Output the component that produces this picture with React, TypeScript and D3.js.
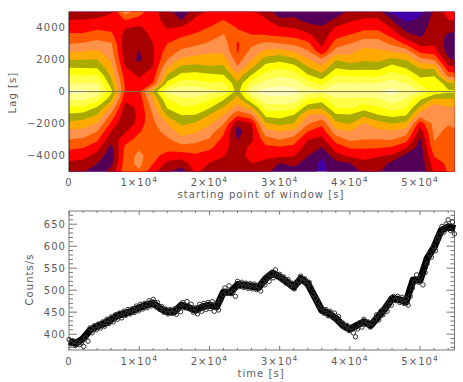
import React, { useRef, useEffect } from 'react';
import * as d3 from 'd3';

const width = 463;
const height = 382;
const plotLeft = 69;
const plotRight = 454.5;
const topPlot = { top: 11.7, bottom: 171.5 };
const lowerPlot = { top: 211, bottom: 350 };

const timeMax = 54900;
const timeTicks = [0, 10000, 20000, 30000, 40000, 50000];
const lagTicks = [-4000, -2000, 0, 2000, 4000];
const countTicks = [400, 450, 500, 550, 600, 650];

// lag rows of the grid, top to bottom
const lagRows = [5000, 4500, 4000, 3500, 3000, 2500, 2000, 1500, 1000, 500, 0, -500, -1000, -1500, -2000, -2500, -3000, -3500, -4000, -4500, -5000];
const colStep = 2000;

// one list per starting time (0, 2000, 4000, ...): colour band read at each lag row
const bandColumns = [
  [2.4, 3.0, 3.6, 4.2, 5.0, 6.0, 7.0, 8.0, 9.1, 10.05, 11.3, 10.05, 8.85, 7.7, 6.7, 5.7, 5.0, 4.2, 3.5, 2.8, 2.2],
  [2.5, 3.0, 3.6, 4.2, 5.1, 6.0, 7.0, 7.95, 9.0, 10.0, 11.3, 10.1, 8.85, 7.5, 6.55, 5.65, 4.85, 4.05, 3.35, 2.65, 2.1],
  [2.5, 3.1, 3.8, 4.55, 5.4, 6.2, 7.05, 7.9, 9.1, 10.05, 10.8, 9.4, 7.9, 6.9, 5.95, 5.0, 4.2, 3.4, 2.65, 2.0, 1.4],
  [2.9, 3.3, 3.7, 4.3, 5.1, 5.45, 5.85, 6.3, 6.8, 7.5, 8.3, 7.3, 5.85, 4.7, 3.8, 3.0, 2.3, 1.7, 1.3, 1.7, 2.4],
  [5.5, 4.05, 3.05, 2.6, 2.4, 2.4, 2.6, 3.05, 3.5, 3.85, 3.9, 3.2, 2.6, 2.3, 2.1, 2.9, 3.6, 4.2, 4.4, 4.5, 4.6],
  [4.5, 3.6, 2.85, 2.5, 2.2, 1.95, 1.8, 2.45, 2.9, 3.4, 3.7, 3.4, 3.2, 3.2, 3.5, 3.9, 4.35, 4.85, 5.3, 5.3, 4.9],
  [3.3, 3.4, 3.4, 3.2, 3.0, 2.9, 2.9, 3.05, 3.5, 4.1, 7.3, 6.05, 5.5, 5.05, 4.8, 4.6, 4.4, 4.3, 4.3, 4.0, 3.3],
  [2.4, 2.6, 2.95, 3.5, 4.0, 4.5, 5.0, 6.1, 7.1, 8.4, 10.3, 8.9, 8.1, 7.1, 6.0, 5.4, 4.8, 4.35, 3.65, 2.7, 2.2],
  [1.3, 1.95, 3.1, 3.9, 4.55, 5.2, 6.2, 7.3, 8.35, 9.55, 10.9, 9.6, 8.9, 7.95, 7.2, 6.45, 5.65, 4.6, 3.5, 2.45, 1.4],
  [2.6, 3.2, 3.65, 4.15, 4.8, 5.6, 6.45, 7.4, 8.45, 9.5, 10.85, 9.65, 8.75, 7.9, 6.85, 6.15, 5.35, 4.55, 3.85, 3.5, 3.2],
  [3.1, 3.55, 4.05, 4.6, 5.15, 5.85, 6.5, 7.15, 8.25, 9.05, 10.4, 9.05, 8.1, 6.9, 6.15, 5.5, 4.9, 4.2, 3.55, 2.95, 2.5],
  [3.5, 4.0, 4.55, 5.1, 5.5, 5.85, 6.5, 7.25, 8.1, 9.3, 10.0, 8.05, 6.9, 5.95, 5.1, 4.2, 3.7, 3.4, 3.05, 2.7, 2.4],
  [3.2, 3.6, 3.95, 4.2, 3.9, 3.9, 4.5, 5.15, 6.35, 7.2, 7.5, 6.5, 5.6, 4.1, 2.1, 1.6, 1.95, 2.3, 2.5, 2.6, 2.7],
  [3.2, 3.5, 3.7, 4.05, 4.75, 5.4, 6.0, 6.9, 8.1, 9.55, 10.85, 8.9, 6.7, 4.8, 3.0, 2.7, 2.8, 3.3, 3.4, 3.0, 2.6],
  [2.5, 3.1, 3.55, 4.05, 5.25, 6.25, 7.45, 8.5, 9.5, 10.4, 11.4, 10.55, 9.5, 8.2, 6.85, 5.6, 4.55, 3.75, 3.25, 2.7, 2.3],
  [1.4, 2.15, 3.1, 3.9, 5.05, 6.5, 7.7, 8.9, 9.9, 10.75, 11.5, 10.65, 9.5, 8.4, 7.3, 6.0, 5.05, 3.9, 3.25, 1.95, 1.4],
  [1.5, 2.25, 2.95, 3.75, 4.8, 6.0, 7.25, 8.5, 9.6, 10.65, 11.4, 10.55, 9.35, 7.9, 6.95, 5.75, 4.55, 3.7, 3.1, 2.3, 1.5],
  [1.2, 1.65, 2.45, 3.3, 4.25, 5.2, 6.15, 7.15, 8.15, 9.6, 10.6, 8.9, 7.4, 5.9, 5.15, 4.0, 3.05, 2.55, 2.05, 1.5, 1.2],
  [1.1, 1.6, 2.1, 2.45, 2.75, 3.3, 5.2, 6.3, 7.35, 8.75, 10.2, 8.45, 7.1, 5.65, 4.25, 3.45, 2.7, 1.95, 1.1, 0.8, 0.9],
  [1.4, 2.15, 3.1, 3.7, 4.45, 5.5, 6.95, 7.9, 9.1, 10.05, 10.85, 9.75, 9.05, 7.7, 6.7, 5.6, 4.4, 3.5, 2.65, 1.6, 1.2],
  [2.3, 2.85, 3.45, 4.1, 5.0, 5.7, 6.55, 7.65, 8.85, 10.05, 10.85, 9.8, 9.15, 7.8, 7.1, 6.0, 5.2, 4.1, 3.25, 1.95, 1.4],
  [2.5, 3.1, 3.7, 4.6, 5.65, 6.35, 6.85, 7.7, 8.85, 10.05, 10.85, 9.65, 8.45, 7.15, 5.95, 5.5, 5.0, 4.1, 3.4, 2.7, 2.2],
  [2.5, 3.1, 3.7, 4.6, 5.55, 6.2, 6.75, 7.65, 8.85, 10.1, 11.0, 9.75, 8.85, 7.9, 6.55, 5.7, 5.0, 4.1, 3.1, 2.6, 2.2],
  [0.6, 1.95, 2.95, 3.75, 4.8, 6.0, 7.25, 8.5, 9.5, 10.5, 11.4, 10.55, 9.5, 8.2, 7.05, 5.85, 5.05, 3.9, 2.9, 1.7, 1.2],
  [0.4, 0.8, 1.45, 2.45, 3.8, 5.7, 6.95, 7.9, 9.1, 10.05, 10.7, 9.85, 9.05, 8.0, 6.7, 5.5, 4.4, 3.1, 1.7, 1.4, 1.1],
  [0.7, 1.15, 1.5, 1.85, 2.65, 3.75, 5.4, 6.9, 7.75, 8.8, 10.0, 8.1, 6.8, 5.4, 3.4, 2.45, 1.8, 1.5, 1.4, 1.3, 1.2],
  [2.2, 2.4, 2.5, 2.65, 2.85, 3.5, 4.9, 6.8, 7.9, 9.05, 8.7, 6.75, 5.4, 5.5, 5.4, 5.25, 5.05, 4.7, 4.1, 3.5, 3.2],
  [3.4, 3.0, 2.4, 1.8, 1.5, 1.6, 2.2, 3.3, 4.6, 7.3, 8.2, 6.85, 5.9, 5.5, 5.05, 4.8, 4.6, 4.4, 4.3, 4.2, 4.1],
  [3.6, 3.2, 2.3, 1.3, 0.9, 0.9, 1.6, 3.0, 4.5, 7.2, 8.2, 6.9, 5.9, 5.5, 5.3, 5.0, 4.8, 4.6, 4.4, 4.3, 4.2],
];

const bandThresholds = [0, 1, 2, 3, 4, 5, 6, 7, 8, 9, 10, 11];
const bandColors = ['#4400a8', '#550058', '#a80000', '#ff0000', '#ff5a00', '#ff9148', '#ffaa00', '#aaaa00', '#ffff00', '#ffff48', '#ffff88', '#ffffc4'];

// counts/s, one reading every 300 s
const countStep = 300;
const countValues = [
  388, 378, 385, 374, 382, 376, 380, 372, 392, 384,
  414, 403, 419, 410, 423, 414, 428, 418, 434, 424,
  439, 428, 444, 434, 448, 437, 452, 443, 456, 446,
  458, 449, 464, 453, 468, 457, 470, 460, 476, 464,
  479, 464, 472, 458, 463, 450, 457, 446, 456, 447,
  457, 445, 461, 451, 472, 460, 474, 458, 468, 450,
  460, 446, 468, 452, 470, 456, 472, 458, 474, 452,
  468, 455, 476, 490, 505, 496, 510, 492, 498, 486,
  520, 508, 518, 506, 516, 504, 515, 503, 514, 501,
  510, 498, 518, 512, 530, 520, 538, 528, 546, 534,
  536, 524, 530, 516, 524, 510, 516, 503, 514, 522,
  532, 520, 526, 512, 518, 505, 490, 482, 474, 462,
  460, 448, 456, 442, 452, 440, 448, 432, 440, 426,
  425, 414, 420, 408, 416, 403, 394, 412, 426, 416,
  434, 422, 428, 416, 426, 434, 444, 432, 452, 444,
  462, 452, 474, 466, 486, 476, 486, 472, 484, 470,
  480, 466, 486, 505, 518, 535, 518, 530, 512, 540,
  560, 582, 575, 600, 590, 615, 625, 645, 632, 650,
  660, 636, 655, 628,
];

// where the dense run of points sits, read every 1000 s
const coreStep = 1000;
const coreValues = [
  383, 379, 390, 409, 418, 424, 433, 443, 447, 453,
  460, 466, 471, 458, 451, 451, 466, 461, 454, 462,
  466, 462, 496, 495, 513, 511, 509, 506, 526, 539,
  530, 519, 507, 526, 515, 485, 454, 447, 436, 420,
  411, 420, 428, 420, 439, 458, 481, 479, 473, 523,
  523, 572, 598, 636, 644, 640,
];

const inkColor = '#5c5c5c';
const fontFamily = '"DejaVu Sans", sans-serif';

const App = () => {
  const svgRef = useRef<SVGSVGElement>(null);

  useEffect(() => {
    const svg = d3.select(svgRef.current);
    svg.selectAll('*').remove();

    const x = d3.scaleLinear().domain([0, timeMax]).range([plotLeft, plotRight]);
    const yLag = d3.scaleLinear().domain([5000, -5000]).range([topPlot.top, topPlot.bottom]);
    const yCount = d3.scaleLinear().domain([364, 680]).range([lowerPlot.bottom, lowerPlot.top]);

    svg.append('clipPath').attr('id', 'map-clip').append('rect')
      .attr('x', plotLeft).attr('y', topPlot.top)
      .attr('width', plotRight - plotLeft).attr('height', topPlot.bottom - topPlot.top);

    // the grid, flattened row by row for d3.contours
    const nCols = bandColumns.length;
    const nRows = lagRows.length;
    const grid = new Array(nCols * nRows);
    bandColumns.forEach((col, i) => col.forEach((v, j) => { grid[j * nCols + i] = v; }));

    const contours = d3.contours().size([nCols, nRows]).thresholds(bandThresholds)(grid);
    const toPlot = d3.geoTransform({
      point(px, py) {
        this.stream.point(x((px - 0.5) * colStep), yLag(lagRows[0] - (py - 0.5) * 500));
      },
    });
    const contourPath = d3.geoPath(toPlot);

    const map = svg.append('g').attr('clip-path', 'url(#map-clip)');
    map.append('rect')
      .attr('x', plotLeft).attr('y', topPlot.top)
      .attr('width', plotRight - plotLeft).attr('height', topPlot.bottom - topPlot.top)
      .attr('fill', bandColors[0]);
    map.selectAll('path')
      .data(contours)
      .join('path')
      .attr('d', d => contourPath(d))
      .attr('fill', (d, i) => bandColors[i]);

    svg.append('line')
      .attr('x1', plotLeft).attr('x2', plotRight)
      .attr('y1', yLag(0)).attr('y2', yLag(0))
      .attr('stroke', '#77774a').attr('stroke-width', 1);

    svg.append('line')
      .attr('x1', plotLeft).attr('x2', plotLeft)
      .attr('y1', topPlot.top).attr('y2', topPlot.bottom)
      .attr('stroke', '#222').attr('stroke-width', 1);

    const timeLabel = (g, ticks) => {
      ticks.forEach(t => {
        const label = g.append('text')
          .attr('x', x(t))
          .attr('text-anchor', 'middle');
        if (t === 0) {
          label.text('0');
        } else {
          label.text(`${t / 10000}×10`);
          label.append('tspan').attr('dy', -4).attr('font-size', 7.5).text('4');
        }
      });
    };

    const labelStyle = (sel) => sel
      .attr('fill', inkColor)
      .attr('font-family', fontFamily)
      .attr('font-size', 10)
      .attr('letter-spacing', 1.05);

    // top panel
    const topLabels = svg.append('g').attr('transform', `translate(0,${topPlot.bottom + 14.5})`).call(labelStyle);
    timeLabel(topLabels, timeTicks);

    svg.append('g').call(labelStyle)
      .selectAll('text')
      .data(lagTicks)
      .join('text')
      .attr('x', plotLeft - 3)
      .attr('y', d => yLag(d) + 3.5)
      .attr('text-anchor', 'end')
      .text(d => (d < 0 ? `−${-d}` : d));

    svg.append('text').call(labelStyle)
      .attr('x', 261)
      .attr('y', topPlot.bottom + 26)
      .attr('text-anchor', 'middle')
      .text('starting point of window [s]');

    svg.append('text').call(labelStyle)
      .attr('transform', `translate(16,${(topPlot.top + topPlot.bottom) / 2 + 1}) rotate(-90)`)
      .attr('text-anchor', 'middle')
      .text('Lag [s]');

    // lower panel: frame with inward ticks on all sides
    const frame = svg.append('g').attr('stroke', '#777').attr('fill', 'none').attr('stroke-width', 1);
    frame.append('rect')
      .attr('x', plotLeft).attr('y', lowerPlot.top)
      .attr('width', plotRight - plotLeft).attr('height', lowerPlot.bottom - lowerPlot.top);

    d3.range(0, timeMax, 2000).forEach(t => {
      const len = t % 10000 === 0 ? 4 : 2;
      frame.append('line').attr('x1', x(t)).attr('x2', x(t)).attr('y1', lowerPlot.bottom).attr('y2', lowerPlot.bottom - len);
      frame.append('line').attr('x1', x(t)).attr('x2', x(t)).attr('y1', lowerPlot.top).attr('y2', lowerPlot.top + len);
    });
    d3.range(370, 680, 10).forEach(c => {
      const len = c % 50 === 0 ? 8 : 4;
      frame.append('line').attr('x1', plotLeft).attr('x2', plotLeft + len).attr('y1', yCount(c)).attr('y2', yCount(c));
      frame.append('line').attr('x1', plotRight).attr('x2', plotRight - len).attr('y1', yCount(c)).attr('y2', yCount(c));
    });

    const coreLine = d3.line<number>()
      .x((d, i) => x(i * coreStep))
      .y(d => yCount(d));

    svg.append('path')
      .datum(coreValues)
      .attr('d', coreLine)
      .attr('fill', 'none')
      .attr('stroke', '#000')
      .attr('stroke-width', 7)
      .attr('stroke-linejoin', 'round');

    svg.append('g')
      .selectAll('circle')
      .data(countValues)
      .join('circle')
      .attr('cx', (d, i) => x(i * countStep))
      .attr('cy', d => yCount(d))
      .attr('r', 2.2)
      .attr('fill', 'none')
      .attr('stroke', '#333')
      .attr('stroke-width', 1);

    const lowerLabels = svg.append('g').attr('transform', `translate(0,${lowerPlot.bottom + 15})`).call(labelStyle);
    timeLabel(lowerLabels, timeTicks);

    svg.append('g').call(labelStyle)
      .selectAll('text')
      .data(countTicks)
      .join('text')
      .attr('x', plotLeft - 3)
      .attr('y', d => yCount(d) + 3.5)
      .attr('text-anchor', 'end')
      .text(d => d);

    svg.append('text').call(labelStyle)
      .attr('x', 261)
      .attr('y', lowerPlot.bottom + 27)
      .attr('text-anchor', 'middle')
      .text('time [s]');

    svg.append('text').call(labelStyle)
      .attr('transform', `translate(33,${(lowerPlot.top + lowerPlot.bottom) / 2 - 1}) rotate(-90)`)
      .attr('text-anchor', 'middle')
      .text('Counts/s');
  }, []);

  return (
    <svg
      ref={svgRef}
      width={width}
      height={height}
      style={{ position: 'absolute', left: 0, top: 0, background: '#fff' }}
    />
  );
};

export default App;
